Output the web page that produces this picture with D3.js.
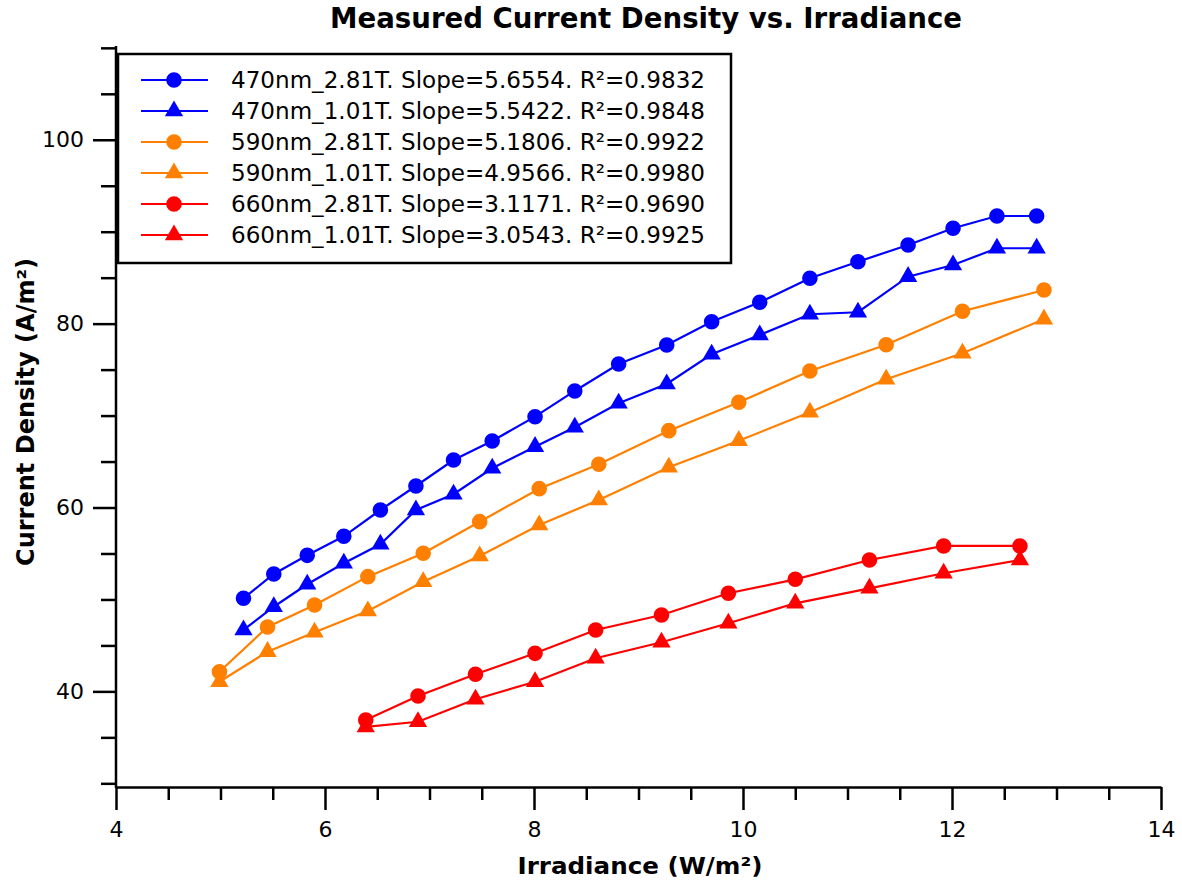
<!DOCTYPE html>
<html>
<head>
<meta charset="utf-8">
<script src="https://cdn.jsdelivr.net/npm/d3@7"></script>
<style>
  html, body { margin: 0; padding: 0; background: #fff; }
  svg { display: block; }
</style>
</head>
<body>
<svg id="chart" width="1182" height="886"></svg>
<script>
// ---- Data ----
const seriesNames = [
  "470nm_2.81T. Slope=5.6554. R²=0.9832",
  "470nm_1.01T. Slope=5.5422. R²=0.9848",
  "590nm_2.81T. Slope=5.1806. R²=0.9922",
  "590nm_1.01T. Slope=4.9566. R²=0.9980",
  "660nm_2.81T. Slope=3.1171. R²=0.9690",
  "660nm_1.01T. Slope=3.0543. R²=0.9925"
];
const seriesColors = ["#0000ff", "#0000ff", "#ff8000", "#ff8000", "#ff0000", "#ff0000"];
const seriesMarkers = ["circle", "triangle", "circle", "triangle", "circle", "triangle"];

const x470 = [5.22, 5.51, 5.83, 6.18, 6.53, 6.87, 7.23, 7.60, 8.01, 8.39, 8.81, 9.27, 9.70, 10.16, 10.64, 11.10, 11.58, 12.01, 12.43, 12.81];
const y470_281 = [50.13, 52.77, 54.80, 56.87, 59.73, 62.34, 65.17, 67.24, 69.88, 72.68, 75.61, 77.68, 80.21, 82.32, 84.94, 86.74, 88.56, 90.37, 91.71, 91.71];
const y470_101 = [46.68, 49.21, 51.65, 53.93, 56.00, 59.73, 61.44, 64.27, 66.62, 68.73, 71.34, 73.44, 76.67, 78.77, 81.02, 81.24, 85.11, 86.38, 88.20, 88.20];

const x590 = [4.99, 5.45, 5.90, 6.41, 6.94, 7.48, 8.05, 8.62, 9.29, 9.96, 10.64, 11.37, 12.10, 12.88];
const y590_281 = [42.14, 47.00, 49.40, 52.48, 55.02, 58.46, 62.05, 64.70, 68.36, 71.45, 74.85, 77.71, 81.35, 83.66];
const y590_101 = [41.05, 44.32, 46.43, 48.74, 51.93, 54.73, 58.10, 60.82, 64.38, 67.27, 70.36, 73.95, 76.78, 80.48];

const x660 = [6.39, 6.89, 7.44, 8.01, 8.59, 9.22, 9.86, 10.50, 11.21, 11.92, 12.65];
const y660_281 = [36.89, 39.50, 41.86, 44.14, 46.68, 48.31, 50.67, 52.19, 54.29, 55.82, 55.82];
const y660_101 = [36.13, 36.70, 39.14, 41.05, 43.60, 45.34, 47.41, 49.58, 51.21, 52.85, 54.29];

const seriesX = [x470, x470, x590, x590, x660, x660];
const seriesY = [y470_281, y470_101, y590_281, y590_101, y660_281, y660_101];

const xMajorTicks = [4, 6, 8, 10, 12, 14];
const yMajorTicks = [40, 60, 80, 100];

const titleText = "Measured Current Density vs. Irradiance";
const xTitleText = "Irradiance (W/m²)";
const yTitleText = "Current Density (A/m²)";

// ---- Chart ----
const svg = d3.select("#chart");
const x = d3.scaleLinear().domain([4, 14]).range([116, 1161]);
const y = d3.scaleLinear().domain([29.6, 110.2]).range([787, 46]);

const fontFam = "'DejaVu Sans', Verdana, sans-serif";

// X axis
const xMinor = d3.range(4, 14.01, 0.5).filter(v => Math.abs(v / 2 - Math.round(v / 2)) > 1e-6);
const gx = svg.append("g").attr("transform", `translate(0,${y.range()[0]})`);
gx.call(d3.axisBottom(x).tickValues(xMinor).tickSize(13).tickFormat(""));
gx.select(".domain").remove();
gx.selectAll(".tick line").attr("stroke-width", 2.5);
const gx2 = svg.append("g").attr("transform", `translate(0,${y.range()[0]})`);
gx2.call(d3.axisBottom(x).tickValues(xMajorTicks).tickSize(23).tickPadding(11).tickSizeOuter(0).tickFormat(d3.format("d")));
gx2.select(".domain").attr("stroke-width", 2.5);
gx2.selectAll(".tick line").attr("stroke-width", 2.5);
gx2.selectAll(".tick text").attr("font-family", fontFam).attr("font-size", 22).attr("fill", "#000");

// Y axis
const yMinor = d3.range(30, 110.01, 5).filter(v => v % 20 !== 0);
const gy = svg.append("g").attr("transform", `translate(${x.range()[0]},0)`);
gy.call(d3.axisLeft(y).tickValues(yMinor).tickSize(15).tickFormat(""));
gy.select(".domain").remove();
gy.selectAll(".tick line").attr("stroke-width", 2.5);
const gy2 = svg.append("g").attr("transform", `translate(${x.range()[0]},0)`);
gy2.call(d3.axisLeft(y).tickValues(yMajorTicks).tickSize(23).tickPadding(9).tickSizeOuter(0).tickFormat(d3.format("d")));
gy2.select(".domain").attr("stroke-width", 2.5).attr("d", `M0,${y.range()[0] + 1}V${y.range()[1]}`);
gy2.selectAll(".tick line").attr("stroke-width", 2.5);
gy2.selectAll(".tick text").attr("font-family", fontFam).attr("font-size", 22).attr("fill", "#000");
svg.selectAll(".domain").attr("fill", "none");

// Titles
svg.append("text").attr("x", 646).attr("y", 28).attr("text-anchor", "middle")
  .attr("font-family", fontFam).attr("font-weight", "bold").attr("font-size", 29)
  .attr("textLength", 632).attr("lengthAdjust", "spacingAndGlyphs").text(titleText);
svg.append("text").attr("x", 640).attr("y", 874).attr("text-anchor", "middle")
  .attr("font-family", fontFam).attr("font-weight", "bold").attr("font-size", 23)
  .attr("textLength", 245).attr("lengthAdjust", "spacingAndGlyphs").text(xTitleText);
svg.append("text").attr("transform", "translate(34,412) rotate(-90)").attr("text-anchor", "middle")
  .attr("font-family", fontFam).attr("font-weight", "bold").attr("font-size", 24)
  .attr("textLength", 308).attr("lengthAdjust", "spacingAndGlyphs").text(yTitleText);

// Series
const line = d3.line().x(d => x(d[0])).y(d => y(d[1]));
const circleSym = d3.symbol().type(d3.symbolCircle).size(Math.PI * 7.8 * 7.8);
const triSym = d3.symbol().type(d3.symbolTriangle).size(145);

seriesNames.forEach((name, i) => {
  const pts = seriesX[i].map((xv, j) => [xv, seriesY[i][j]]);
  const g = svg.append("g");
  g.append("path").attr("d", line(pts)).attr("fill", "none")
    .attr("stroke", seriesColors[i]).attr("stroke-width", 2.2);
  g.selectAll("path.m").data(pts).join("path").attr("class", "m")
    .attr("transform", d => `translate(${x(d[0])},${y(d[1])})`)
    .attr("d", seriesMarkers[i] === "circle" ? circleSym() : triSym())
    .attr("fill", seriesColors[i]);
});

// Legend
const leg = svg.append("g");
leg.append("rect").attr("x", 118).attr("y", 54).attr("width", 613).attr("height", 209)
  .attr("fill", "#fff").attr("stroke", "#000").attr("stroke-width", 2.5);
seriesNames.forEach((name, i) => {
  const cy = 80 + i * 31;
  leg.append("line").attr("x1", 141).attr("x2", 208).attr("y1", cy).attr("y2", cy)
    .attr("stroke", seriesColors[i]).attr("stroke-width", 2.2);
  leg.append("path").attr("transform", `translate(174,${cy})`)
    .attr("d", seriesMarkers[i] === "circle" ? circleSym() : triSym())
    .attr("fill", seriesColors[i]);
  leg.append("text").attr("x", 231).attr("y", cy + 8)
    .attr("font-family", fontFam).attr("font-size", 23).attr("fill", "#000")
    .attr("textLength", 474).attr("lengthAdjust", "spacingAndGlyphs").text(name);
});
</script>
</body>
</html>
